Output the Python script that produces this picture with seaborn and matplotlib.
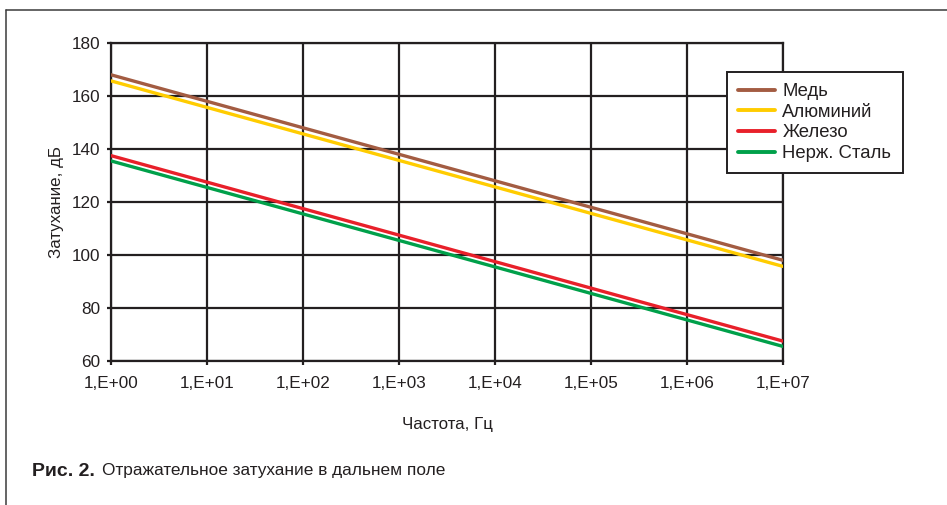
import matplotlib
matplotlib.use("Agg")
import matplotlib.pyplot as plt
import matplotlib.lines as mlines
import numpy as np
import pandas as pd
import seaborn as sns

# Frequencies (Hz), one point per decade
freq = [1e0, 1e1, 1e2, 1e3, 1e4, 1e5, 1e6, 1e7]
tick_labels = ["1,E+00", "1,E+01", "1,E+02", "1,E+03", "1,E+04", "1,E+05", "1,E+06", "1,E+07"]

# Reflection loss, dB
copper = [168, 158, 148, 138, 128, 118, 108, 98]
aluminium = [165.7, 155.7, 145.7, 135.7, 125.7, 115.7, 105.7, 95.7]
iron = [137.5, 127.5, 117.5, 107.5, 97.5, 87.5, 77.5, 67.5]
steel = [135.5, 125.5, 115.5, 105.5, 95.5, 85.5, 75.5, 65.5]

series_names = ["Медь", "Алюминий", "Железо", "Нерж. Сталь"]
series_colors = ["#a35c42", "#ffcc00", "#e8202a", "#00a04a"]

df = pd.concat(
    [pd.DataFrame({"f": freq, "dB": vals, "Металл": name})
     for name, vals in zip(series_names, [copper, aluminium, iron, steel])],
    ignore_index=True,
)

sns.set_theme(style="white")
plt.rcParams["font.family"] = ["Liberation Sans", "DejaVu Sans"]

W, H = 947, 505
fig = plt.figure(figsize=(W / 100, H / 100), dpi=100)
ax = fig.add_axes([111 / W, 1 - 361 / H, (783 - 111) / W, (361 - 43) / H])

ink = "#231f20"

sns.lineplot(data=df, x="f", y="dB", hue="Металл", palette=series_colors,
             hue_order=series_names, linewidth=2.4, ax=ax, legend=False,
             zorder=3)

ax.set_xscale("log")
ax.set_xlim(1e0, 1e7)
ax.set_ylim(60, 180)
ax.set_xticks(freq)
ax.set_xticklabels(tick_labels)
ax.set_yticks(np.arange(60, 181, 20))
ax.minorticks_off()
ax.grid(True, color=ink, linewidth=1.6, zorder=1)
for s in ["left", "bottom", "top", "right"]:
    ax.spines[s].set_visible(True)
    ax.spines[s].set_color(ink)
    ax.spines[s].set_linewidth(1.6)
ax.tick_params(axis="both", which="major", length=3, width=1.6, color=ink,
               labelsize=12.3, labelcolor=ink, direction="out",
               bottom=True, left=True)
ax.tick_params(axis="x", pad=8)
ax.tick_params(axis="y", pad=5)

ax.set_xlabel("Частота, Гц", fontsize=12.2, color=ink)
ax.set_ylabel("Затухание, дБ", fontsize=12.2, color=ink)
ax.xaxis.set_label_coords(0.5, (361 - 425) / 318)
ax.xaxis.label.set_va("center")
ax.yaxis.set_label_coords((57 - 111) / 672, 0.5)
ax.yaxis.label.set_va("center")

handles = [mlines.Line2D([], [], color=c, linewidth=2.8) for c in series_colors]
leg = ax.legend(handles, series_names, loc="upper left",
                bbox_to_anchor=((727 - 111) / 672, 1 - (72 - 43) / 318),
                frameon=True, fancybox=False, framealpha=1, edgecolor=ink,
                fontsize=13.3, handlelength=2.0, handletextpad=0.4,
                borderpad=0.6, labelspacing=0.2, borderaxespad=0)
leg.get_frame().set_linewidth(1.4)
leg.set_zorder(5)
for t in leg.get_texts():
    t.set_color(ink)

# Outer frame (top and left edges only)
frame_color = "#3a3a3a"
fig.add_artist(mlines.Line2D([6 / W, 1.0], [1 - 10 / H, 1 - 10 / H],
                             transform=fig.transFigure, color=frame_color, linewidth=1.1))
fig.add_artist(mlines.Line2D([6 / W, 6 / W], [0.0, 1 - 10 / H],
                             transform=fig.transFigure, color=frame_color, linewidth=1.1))

# Caption
cap_font = ["Liberation Sans", "DejaVu Sans"]
t1 = fig.text(32 / W, 1 - 471 / H, "Рис. 2.", fontsize=14, fontweight="bold",
              family=cap_font, color=ink, va="center", ha="left")
fig.canvas.draw()
bb = t1.get_window_extent()
fig.text((bb.x1 + 7) / W, 1 - 471 / H, "Отражательное затухание в дальнем поле",
         fontsize=12.4, family=cap_font, color=ink, va="center", ha="left")

fig.savefig("out.png", dpi=100)
